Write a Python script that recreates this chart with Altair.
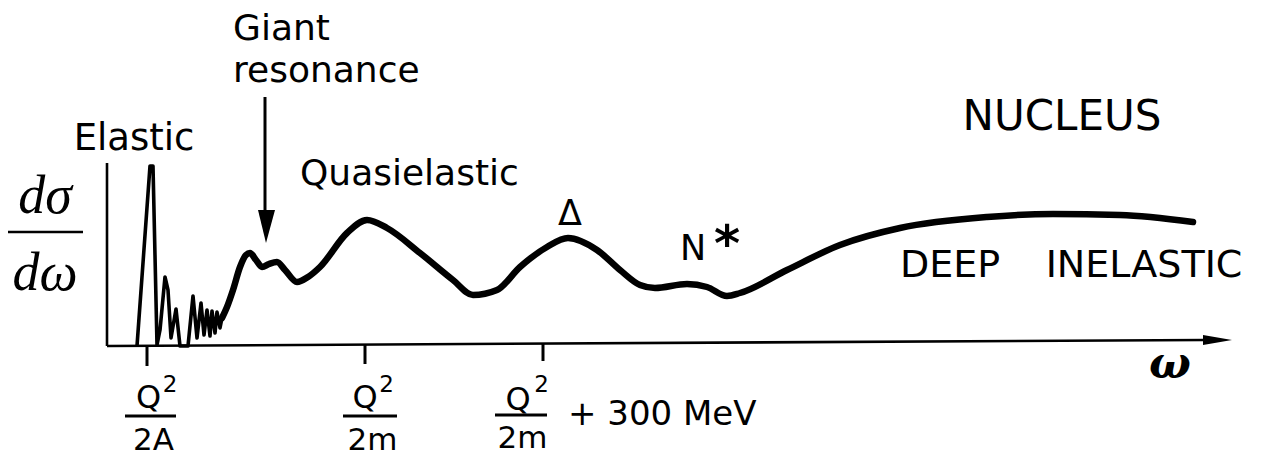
import altair as alt
import pandas as pd

# omega (arbitrary units from origin) and dsigma/domega (arbitrary units)
elastic_w = [30, 43, 46, 50, 53, 58, 61, 64, 69, 73, 81, 86, 90, 94, 97, 100, 103, 105, 108, 110, 113, 115]
elastic_s = [0, 180, 180, 1, 16, 69, 56, 8, 37, 0, 0, 50, 8, 43, 11, 36, 10, 35, 13, 34, 18, 28]

main_w = [115, 120, 126, 133, 139, 143, 149, 155, 162, 170, 178, 190, 201, 213, 240, 260, 280, 313,
          346, 366, 390, 413, 440, 461, 490, 513, 533, 548, 580, 600, 620, 633, 680, 733, 793, 880,
          946, 1013, 1086]
main_s = [28, 39, 56, 79, 91, 93, 86, 79, 82, 84, 76, 64, 69, 79, 113, 126, 118, 93,
          66, 51, 56, 79, 99, 108, 96, 76, 61, 58, 62, 59, 50, 53, 76, 101, 118, 129,
          132, 131, 124]

tick_w = [40, 258, 436]

X = alt.Scale(domain=[-99, 1153], nice=False, zero=False)
Y = alt.Scale(domain=[-110, 338], nice=False, zero=False)

elastic = pd.DataFrame({"x": elastic_w, "y": elastic_s})
main = pd.DataFrame({"x": main_w, "y": main_s})

def enc():
    return dict(x=alt.X("x:Q", scale=X, axis=None), y=alt.Y("y:Q", scale=Y, axis=None))

l_el = alt.Chart(elastic).mark_line(color="black", strokeWidth=3.6, strokeJoin="round").encode(**enc())
l_main = alt.Chart(main).mark_line(color="black", strokeWidth=6.5, interpolate="monotone",
                                   strokeCap="round", strokeJoin="round").encode(**enc())

# axis lines, ticks, fraction bars, arrow shaft
rules = pd.DataFrame({
    "x":  [0, 0, tick_w[0], tick_w[1], tick_w[2], 18, 236, 388, -102, 158],
    "x2": [0, 1098, tick_w[0], tick_w[1], tick_w[2], 69, 290, 440, -24, 158],
    "y":  [0, 0, 0, 1.5, 2.5, -70, -70, -69, 114, 249],
    "y2": [183, 6, -20, -18, -15, -70, -70, -69, 114, 131],
    "w":  [2.6, 2.6, 3, 3, 3, 3, 3, 3, 2.5, 3],
})
l_rules = alt.Chart(rules).mark_rule(color="black").encode(
    x=alt.X("x:Q", scale=X, axis=None), x2="x2:Q",
    y=alt.Y("y:Q", scale=Y, axis=None), y2="y2:Q",
    strokeWidth=alt.StrokeWidth("w:Q", scale=None))

axis_head = pd.DataFrame({"x": [1096, 1125], "y": [1, 6], "y2": [11, 6]})
giant_head = pd.DataFrame({"x": [151, 159, 168], "y": [136, 103, 136], "y2": [136, 136, 136]})
l_heads = [alt.Chart(d).mark_area(color="black").encode(
    x=alt.X("x:Q", scale=X, axis=None), y=alt.Y("y:Q", scale=Y, axis=None), y2="y2:Q")
    for d in (axis_head, giant_head)]

def txt(items, font="DejaVu Sans", size=36, align="center", weight="normal", style="normal"):
    df = pd.DataFrame(items, columns=["x", "y", "t"])
    return alt.Chart(df).mark_text(font=font, fontSize=size, align=align, baseline="alphabetic",
                                   fontWeight=weight, fontStyle=style, color="black").encode(
        x=alt.X("x:Q", scale=X, axis=None), y=alt.Y("y:Q", scale=Y, axis=None), text="t:N")

texts = [
    txt([(27, 196, "Elastic")], size=37),
    txt([(126, 306, "Giant"), (126, 264, "resonance"), (193, 161, "Quasielastic")], align="left"),
    txt([(463, 121, "Δ"), (586, 86, "N")], size=35),
    txt([(620, 85, "*")], size=50, weight="bold"),
    txt([(955, 216, "NUCLEUS")], size=42),
    txt([(843, 69, "DEEP"), (1037, 69, "INELASTIC")], size=38),
    txt([(1063, -32, "ω")], font="DejaVu Serif", size=44, weight="bold", style="italic"),
    txt([(-62, 133, "dσ"), (-62, 56, "dω")], font="Liberation Serif", size=54, style="italic"),
    txt([(41.5, -62, "Q"), (258, -62, "Q"), (411, -64, "Q")], size=32),
    txt([(63, -46, "2"), (279.5, -46, "2"), (434.5, -46, "2")], size=23),
    txt([(46.5, -104, "2A"), (265.5, -104, "2m"), (415.5, -102, "2m")], size=31),
    txt([(461, -79, "+ 300 MeV")], size=34, align="left"),
]

chart = alt.layer(l_rules, *l_heads, l_el, l_main, *texts).properties(
    width=1252, height=448, padding=0,
    autosize=alt.AutoSizeParams(type="none"),
    background="white",
).configure_view(stroke=None)

chart.save("out.html", embed_options={"renderer": "svg", "actions": False})
